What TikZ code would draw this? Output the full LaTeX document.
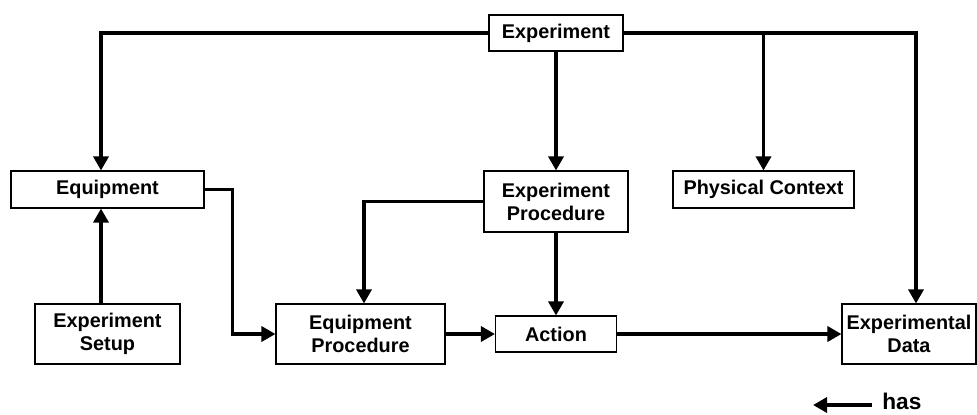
\documentclass[tikz,border=0pt]{standalone}
\usepackage{fontspec}
\setmainfont{Liberation Sans}
\usetikzlibrary{arrows.meta}
\tikzset{
  box/.style={draw, line width=0.6pt, inner sep=0pt, align=center,
    font=\bfseries\fontsize{11.3}{13}\selectfont},
  link/.style={line width=2.2pt, -{Triangle[length=8pt,width=8.5pt]}}
}
\begin{document}
\begin{tikzpicture}[x=0.02cm, y=-0.02cm]
\useasboundingbox (0,0) rectangle (977,414);
\node [box, minimum width=2.68cm, minimum height=0.72cm] (exp) at (556,33) {Experiment};
\node [box, minimum width=3.86cm, minimum height=0.74cm] (equip) at (107.5,189.5) {Equipment};
\node [box, minimum width=2.90cm, minimum height=1.20cm] (setup) at (107.5,334) {Experiment\\Setup};
\node [box, minimum width=3.38cm, minimum height=1.20cm] (eqproc) at (360.5,334) {Equipment\\Procedure};
\node [box, minimum width=2.88cm, minimum height=1.22cm] (exproc) at (556,201.5) {Experiment\\Procedure};
\node [box, minimum width=3.62cm, minimum height=0.74cm] (phys) at (763.5,189.5) {Physical Context};
\node [box, minimum width=2.42cm, minimum height=0.72cm] (action) at (556,334) {Action};
\node [box, minimum width=2.68cm, minimum height=1.20cm] (data) at (909,334) {Experimental\\Data};
% columns of the bent links
\coordinate (cl) at (101,0);
\coordinate (cm) at (364,0);
\coordinate (cr) at (916,0);
\draw [link] (exp.west) -| (cl |- equip.north);
\draw [link] (exp.east) -| (cr |- data.north);
\draw [link] (phys.north |- exp.east) -- (phys.north);
\draw [link] (exp.south) -- (exproc.north);
\draw [link] (cl |- setup.north) -- (cl |- equip.south);
\draw [link] (equip.east) -- ++(28,0) |- (eqproc.west);
\draw [link] (exproc.west) -| (cm |- eqproc.north);
\draw [link] (exproc.south) -- (action.north);
\draw [link] (eqproc.east) -- (action.west);
\draw [link] (action.east) -- (data.west);
% legend
\node [anchor=base west, inner sep=0pt, font=\bfseries\fontsize{12.9}{14}\selectfont] (has) at (882,409) {has};
\coordinate (hasy) at (0,405);
\coordinate (hasend) at (813,405);
\draw [link] ([xshift=-0.2cm]has.west |- hasy) -- (hasend);
\end{tikzpicture}
\end{document}
